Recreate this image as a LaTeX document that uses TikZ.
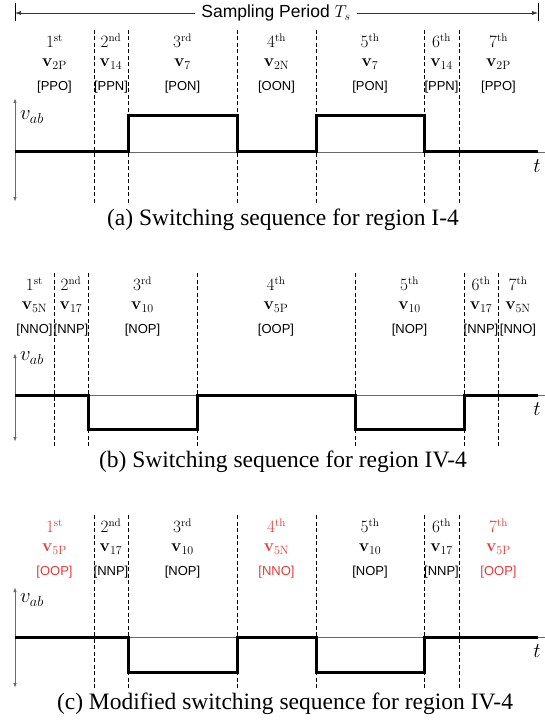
\documentclass[tikz,border=0pt]{standalone}
\usepackage[no-math]{fontspec}
\setmainfont{Liberation Serif}
\newfontfamily\lsans{Liberation Sans}
\usetikzlibrary{arrows.meta}
\definecolor{myred}{RGB}{235,55,55}
\definecolor{axgray}{RGB}{105,105,105}
\begin{document}
\begin{tikzpicture}[x=1pt,y=-1pt,
  ord/.style={font=\fontsize{16}{18}\selectfont, inner sep=0pt},
  vec/.style={font=\fontsize{18.5}{20}\selectfont, inner sep=0pt},
  code/.style={font=\lsans\fontsize{13}{15}\selectfont, inner sep=0pt},
  dline/.style={black, line width=0.6pt, dash pattern=on 4pt off 2.5pt},
  wave/.style={black, line width=3pt, line join=miter},
  vaxis/.style={axgray, line width=0.9pt, {Latex[length=5pt,width=3.5pt]}-{Latex[length=5pt,width=3.5pt]}},
  haxis/.style={axgray, line width=0.8pt},
  captxt/.style={font=\fontsize{23.5}{26}\selectfont, inner sep=0pt},
  axlab/.style={font=\fontsize{20}{22}\selectfont, inner sep=0pt}]
\useasboundingbox (0,0) rectangle (545,722);

% ---------- sampling period arrow ----------
\coordinate (tl) at (15,13);
\coordinate (tr) at (538,13);
\draw[black, line width=0.6pt] (15,3) -- (15,21);
\draw[black, line width=0.6pt] (538,3) -- (538,21);
\draw[black!80, line width=0.6pt, {Latex[length=6pt,width=4pt]}-{Latex[length=6pt,width=4pt]}] (tl) -- (tr);
\node[fill=white, inner xsep=6pt, inner ysep=1pt, font=\lsans\fontsize{17.5}{20}\selectfont] (title) at (276,13) {Sampling Period $T_s$};

% ---------- panel (a) ----------
\foreach \x in {94,128,237,316,424,459}
  \draw[dline] (\x,30) -- (\x,203);
\foreach \i/\xl/\xr/\o/\v/\c in {
  1/15/94/st/{2\mathrm{P}}/PPO,
  2/94/128/nd/{14}/PPN,
  3/128/237/rd/{7}/PON,
  4/237/316/th/{2\mathrm{N}}/OON,
  5/316/424/th/{7}/PON,
  6/424/459/th/{14}/PPN,
  7/459/538/th/{2\mathrm{P}}/PPO}{
  \node[ord] (ao\i) at ({(\xl+\xr)/2},41) {$\i^{\mathrm{\o}}$};
  \node[vec] (av\i) at ({(\xl+\xr)/2},64) {$\mathbf{v}_{\v}$};
  \node[code] (ac\i) at ({(\xl+\xr)/2},87.5) {[\c]};
}
\draw[haxis] (15,152) -- (545,152);
\draw[vaxis] (15,98) -- (15,202);
\node[axlab] (avab) at (32,117) {$v_{ab}$};
\node[axlab] (at) at (537,166) {$t$};
\draw[wave] (15,152) -- (128,152) -- (128,116) -- (237,116) -- (237,152) -- (316,152)
  -- (316,116) -- (424,116) -- (424,152) -- (538,152);
\node[captxt] (capa) at (283,220) {(a) Switching sequence for region I-4};

% ---------- panel (b) ----------
\foreach \x in {54,88,197,355,464,498}
  \draw[dline] (\x,273) -- (\x,447);
\foreach \i/\xl/\xr/\o/\v/\c in {
  1/15/54/st/{5\mathrm{N}}/NNO,
  2/54/88/nd/{17}/NNP,
  3/88/197/rd/{10}/NOP,
  4/197/355/th/{5\mathrm{P}}/OOP,
  5/355/464/th/{10}/NOP,
  6/464/498/th/{17}/NNP,
  7/498/538/th/{5\mathrm{N}}/NNO}{
  \node[ord] (bo\i) at ({(\xl+\xr)/2},284) {$\i^{\mathrm{\o}}$};
  \node[vec] (bv\i) at ({(\xl+\xr)/2},307) {$\mathbf{v}_{\v}$};
  \node[code] (bc\i) at ({(\xl+\xr)/2},330) {[\c]};
}
\draw[haxis] (15,395) -- (545,395);
\draw[vaxis] (15,353) -- (15,442);
\node[axlab] (bvab) at (32,358) {$v_{ab}$};
\node[axlab] (bt) at (537,409) {$t$};
\draw[wave] (15,395) -- (88,395) -- (88,429) -- (197,429) -- (197,395) -- (355,395)
  -- (355,429) -- (464,429) -- (464,395) -- (538,395);
\node[captxt] (capb) at (283,462) {(b) Switching sequence for region IV-4};

% ---------- panel (c) ----------
\foreach \x in {94,128,237,316,424,459}
  \draw[dline] (\x,515) -- (\x,690);
\foreach \i/\xl/\xr/\o/\v/\c/\col in {
  1/15/94/st/{5\mathrm{P}}/OOP/myred,
  2/94/128/nd/{17}/NNP/black,
  3/128/237/rd/{10}/NOP/black,
  4/237/316/th/{5\mathrm{N}}/NNO/myred,
  5/316/424/th/{10}/NOP/black,
  6/424/459/th/{17}/NNP/black,
  7/459/538/th/{5\mathrm{P}}/OOP/myred}{
  \node[ord,text=\col] (co\i) at ({(\xl+\xr)/2},526) {$\i^{\mathrm{\o}}$};
  \node[vec,text=\col] (cv\i) at ({(\xl+\xr)/2},549) {$\mathbf{v}_{\v}$};
  \node[code,text=\col] (cc\i) at ({(\xl+\xr)/2},572) {[\c]};
}
\draw[haxis] (15,637) -- (545,637);
\draw[vaxis] (15,587) -- (15,688);
\node[axlab] (cvab) at (32,600) {$v_{ab}$};
\node[axlab] (ct) at (537,651) {$t$};
\draw[wave] (15,637) -- (128,637) -- (128,672) -- (237,672) -- (237,637) -- (316,637)
  -- (316,672) -- (424,672) -- (424,637) -- (538,637);
\node[captxt] (capc) at (285,704) {(c) Modified switching sequence for region IV-4};
\end{tikzpicture}
\end{document}
